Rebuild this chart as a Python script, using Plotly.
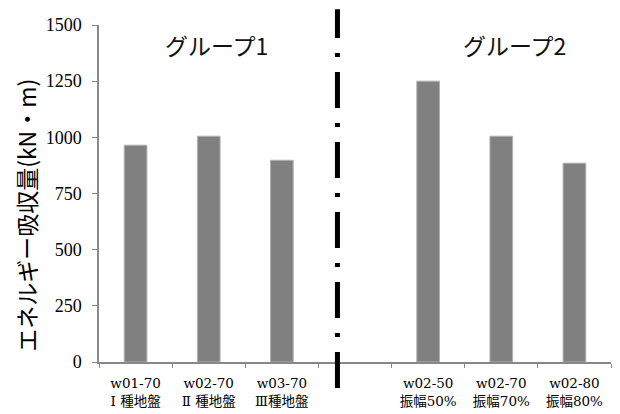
import plotly.graph_objects as go

codes = ["w01-70", "w02-70", "w03-70", "", "w02-50", "w02-70", "w02-80"]
subs = ["Ⅰ 種地盤", "Ⅱ 種地盤", "Ⅲ種地盤", "", "振幅50%", "振幅70%", "振幅80%"]
values = [965, 1005, 898, None, 1250, 1005, 885]
group_labels = ["グループ1", "グループ2"]
y_title = "エネルギー吸収量(kN・m)"

categories = [f"{c}<br>{s}" if c else " " for c, s in zip(codes, subs)]

jp = "Noto Sans CJK JP"

fig = go.Figure()
fig.add_trace(go.Bar(
    x=categories, y=values,
    marker=dict(color="#808080", line=dict(color="#b0b0b0", width=1)),
    width=0.31,
    showlegend=False,
))

# page body has an 8px margin, so the figure is drawn 8px smaller
fig.update_layout(
    width=612, height=406,
    margin=dict(l=91, r=9, t=17, b=52),
    paper_bgcolor="white", plot_bgcolor="white",
    xaxis=dict(
        type="category", automargin=False,
        showline=True, linecolor="#888888", linewidth=1.5,
        ticks="outside", ticklen=4, tickcolor="#888888", tickwidth=1,
        tickson="boundaries", ticklabelstandoff=8,
        tickfont=dict(family="DejaVu Serif, Noto Sans CJK JP, serif", size=13.5, color="black"),
        showgrid=False, zeroline=False,
    ),
    yaxis=dict(
        range=[0, 1500], dtick=250, tick0=0, automargin=False,
        showline=True, linecolor="#888888", linewidth=1.5,
        ticks="outside", ticklen=5, tickcolor="#888888",
        ticklabelstandoff=7,
        tickfont=dict(family="Liberation Serif", size=18, color="black"),
        showgrid=False, zeroline=False,
    ),
)

fig.add_annotation(x=-0.143, y=0.436, xref="paper", yref="paper", text=y_title,
                   textangle=-90, showarrow=False, xanchor="center", yanchor="middle",
                   font=dict(family=jp, size=23, color="black"))

# dash-dot separator between groups
fig.add_shape(
    type="line", xref="x", yref="paper",
    x0=2.76, x1=2.76, y0=-0.077, y1=1.047,
    line=dict(color="black", width=5, dash="36px,15px,4px,15px"),
)

for xi, lbl in zip([1.1, 5.18], group_labels):
    fig.add_annotation(x=xi, y=0.94, xref="x", yref="paper", text=lbl,
                       showarrow=False, yanchor="middle",
                       font=dict(family=jp, size=23, color="#111111"))

fig.write_html("out.html")
